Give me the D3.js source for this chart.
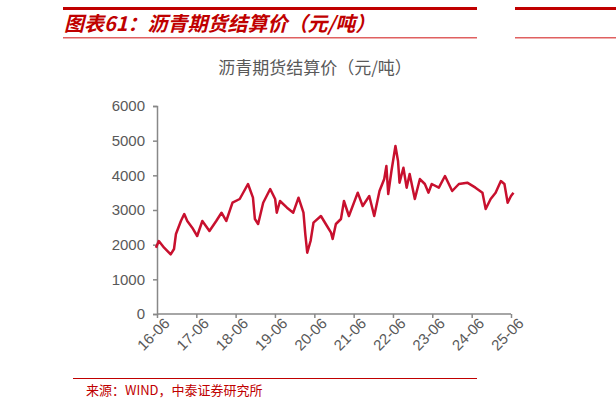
<!DOCTYPE html>
<html><head><meta charset="utf-8">
<script src="https://cdn.jsdelivr.net/npm/d3@7"></script>
<style>body{margin:0;background:#fff}</style>
</head><body>
<svg id="c" width="616" height="410"></svg>
<script>
// 沥青期货结算价 (元/吨)
var dates = ["2016-05-22","2016-06-18","2016-08-06","2016-10-06","2016-11-06","2016-11-24","2017-01-09","2017-02-09","2017-03-09","2017-04-24",
  "2017-06-09","2017-07-27","2017-10-01","2017-12-03","2018-01-21","2018-03-06","2018-05-03","2018-07-09","2018-09-24","2018-11-09",
  "2018-11-27","2018-12-27","2019-02-12","2019-04-18","2019-06-03","2019-06-18","2019-07-18","2019-09-21","2019-11-18","2020-01-06",
  "2020-02-21","2020-03-09","2020-03-27","2020-04-27","2020-05-24","2020-08-01","2020-09-15","2020-11-03","2020-11-18","2020-12-18",
  "2021-02-03","2021-03-03","2021-04-18","2021-07-09","2021-08-24","2021-10-24","2021-12-09","2022-01-27","2022-03-12","2022-04-01",
  "2022-04-18","2022-05-18","2022-06-24","2022-07-18","2022-08-01","2022-09-06","2022-10-06","2022-11-03","2022-12-21","2023-02-06",
  "2023-03-24","2023-04-27","2023-05-27","2023-08-01","2023-09-27","2023-12-03","2024-02-03","2024-04-21","2024-07-06","2024-09-09",
  "2024-10-09","2024-11-24","2025-01-09","2025-02-27","2025-04-01","2025-05-01","2025-06-01","2025-06-24"];
var prices = [1913,2105,1913,1720,1875,2307,2683,2884,2683,2490,
  2250,2683,2394,2683,2922,2683,3210,3317,3750,3355,
  2740,2596,3210,3605,3317,2922,3260,3067,2922,3355,
  2922,2307,1768,2105,2634,2827,2596,2345,2163,2596,
  2740,3260,2827,3500,3115,3403,2827,3548,3894,4269,
  3461,4125,4846,4413,3788,4220,3644,4038,3317,3894,
  3750,3500,3750,3644,3980,3548,3750,3788,3644,3500,
  3029,3317,3500,3836,3750,3210,3403,3500];
var yTicks = [0,1000,2000,3000,4000,5000,6000];
var xTicks = ["2016-06-01","2017-06-01","2018-06-01","2019-06-01","2020-06-01","2021-06-01","2022-06-01","2023-06-01","2024-06-01","2025-06-01"];

var svg = d3.select("#c");
var red = "#c00000", grey = "#595959", axisCol = "#888";
var parse = d3.timeParse("%Y-%m-%d");

// header
svg.append("rect").attr("x",63).attr("y",7).attr("width",414).attr("height",3).attr("fill",red);
svg.append("rect").attr("x",63).attr("y",37).attr("width",414).attr("height",1.5).attr("fill","#e06060");
svg.append("rect").attr("x",515).attr("y",7).attr("width",101).attr("height",3).attr("fill",red);
svg.append("rect").attr("x",515).attr("y",37).attr("width",101).attr("height",1.5).attr("fill","#e06060");
svg.append("text").attr("x",64).attr("y",31).attr("fill",red)
   .style("font","italic bold 20px 'Noto Sans CJK SC'").text("图表61：沥青期货结算价（元/吨）");
svg.append("text").attr("x",315).attr("y",74).attr("text-anchor","middle").attr("fill",grey)
   .style("font","17px 'Noto Sans CJK SC'").text("沥青期货结算价（元/吨）");

var x = d3.scaleTime().domain([parse("2016-06-01"), parse("2025-06-01")]).range([157, 511]);
var y = d3.scaleLinear().domain([0, 6000]).range([314, 106]);

var ya = svg.append("g").attr("transform","translate(157,0)")
   .call(d3.axisLeft(y).tickValues(yTicks).tickFormat(d3.format("d")).tickSize(4).tickPadding(8));
ya.selectAll("text").attr("fill",grey).style("font","15px Arial");
ya.selectAll("path,line").attr("stroke",axisCol).attr("stroke-width",1.5);

var xa = svg.append("g").attr("transform","translate(0,314)")
   .call(d3.axisBottom(x).tickValues(xTicks.map(parse)).tickFormat(d3.timeFormat("%y-%m")).tickSize(4));
xa.select("path").attr("d","M157,0H511");
xa.selectAll("path,line").attr("stroke",axisCol).attr("stroke-width",1.5);
xa.selectAll("text").attr("fill",grey).style("font","15px Arial")
   .attr("text-anchor","end").attr("x",2).attr("y",6).attr("dy","0.7em").attr("transform","rotate(-45)");

var data = dates.map(function(d, i){ return {d: parse(d), v: prices[i]}; });
svg.append("path").datum(data).attr("fill","none").attr("stroke","#c8102e").attr("stroke-width",2.5)
   .attr("stroke-linejoin","round")
   .attr("d", d3.line().x(function(p){ return x(p.d); }).y(function(p){ return y(p.v); }));

// footer
svg.append("rect").attr("x",73).attr("y",378).attr("width",404).attr("height",1).attr("fill",red);
svg.append("text").attr("x",86).attr("y",395).attr("fill",red)
   .style("font","13px 'Noto Sans CJK SC'").text("来源：WIND，中泰证券研究所");
</script>
</body></html>
